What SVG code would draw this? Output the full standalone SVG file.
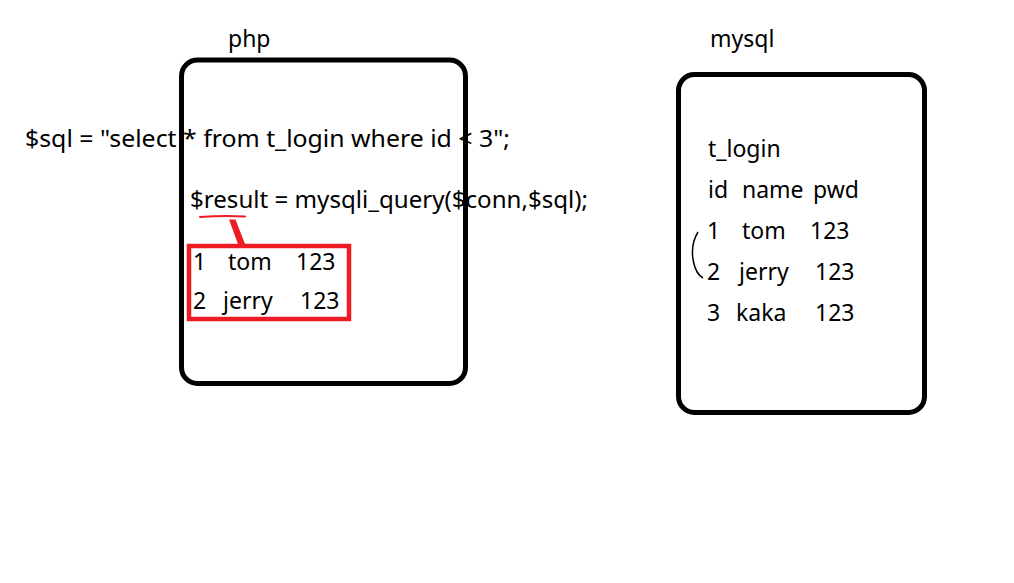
<svg xmlns="http://www.w3.org/2000/svg" width="1014" height="583" viewBox="0 0 1014 583">
<style>
text{font-family:"Noto Sans","Open Sans","Liberation Sans",sans-serif;font-size:23px;fill:#000}
.box{fill:none;stroke:#000;stroke-width:5}
.red{fill:none;stroke:#ed1c24}
</style>
<rect width="1014" height="583" fill="#fff"/>
<g id="php-label"><text x="228" y="47">php</text></g>
<g id="mysql-label"><text x="710" y="47">mysql</text></g>
<g id="sql-line"><text x="25" y="147" textLength="485" lengthAdjust="spacingAndGlyphs">$sql = "select * from t_login where id &lt; 3";</text></g>
<g id="result-line"><text x="190" y="208" textLength="398" lengthAdjust="spacingAndGlyphs">$result = mysqli_query($conn,$sql);</text></g>
<g id="php-box"><rect class="box" x="181.5" y="60" width="284" height="323.5" rx="16"/></g>
<g id="result-set">
<rect class="red" stroke-width="4.5" x="189" y="246" width="160" height="73"/>
<text y="270"><tspan x="193">1</tspan><tspan x="228">tom</tspan><tspan x="296">123</tspan></text>
<text y="309"><tspan x="193">2</tspan><tspan x="223">jerry</tspan><tspan x="300">123</tspan></text>
</g>
<g id="mysql-box">
<rect class="box" x="678.5" y="74.5" width="246" height="338" rx="16"/>
<text x="708" y="157">t_login</text>
<text y="198"><tspan x="708">id</tspan><tspan x="742">name</tspan><tspan x="813">pwd</tspan></text>
<text y="239"><tspan x="707">1</tspan><tspan x="742">tom</tspan><tspan x="810">123</tspan></text>
<text y="280"><tspan x="707">2</tspan><tspan x="739">jerry</tspan><tspan x="815">123</tspan></text>
<text y="321"><tspan x="707">3</tspan><tspan x="736">kaka</tspan><tspan x="815">123</tspan></text>
</g>
<g id="connectors">
<path class="red" stroke-width="2" stroke-linecap="round" d="M200 217 Q222 215.5 245 216.5"/>
<path fill="#ed1c24" d="M229 219.5 L235.5 219.5 L245 244 L238 244 Z"/>
<path fill="none" stroke="#000" stroke-width="1.5" d="M698 232 Q690 245 693.5 262 Q696 274 703 278"/>
</g>
</svg>
